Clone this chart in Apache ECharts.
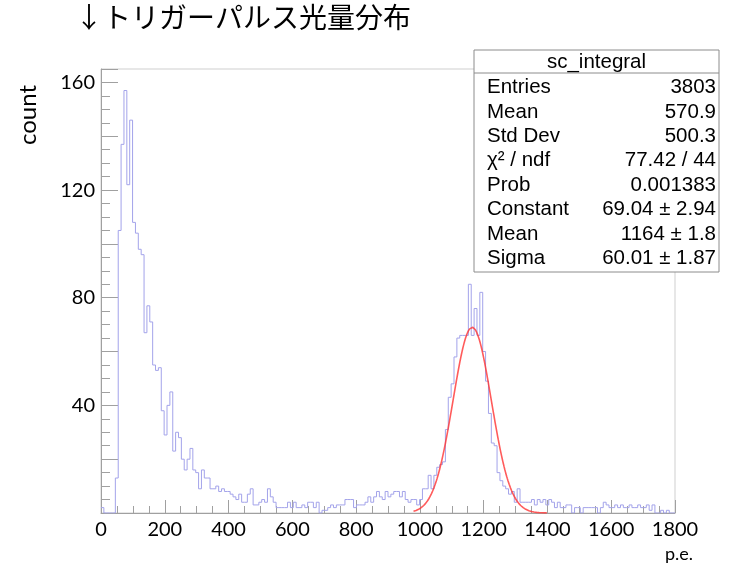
<!DOCTYPE html>
<html lang="ja">
<head>
    <meta charset="UTF-8">
    <title>トリガーパルス光量分布</title>
    <script src="https://cdn.jsdelivr.net/npm/echarts@6/dist/echarts.min.js"></script>
    <style>
        html, body { margin: 0; padding: 0; background: #fff; }
        #main { width: 730px; height: 569px; }
    </style>
</head>
<body>
<div id="main"></div>
<script>
    // histogram sc_integral : 200 bins, 0 - 1800 p.e. (9 p.e. per bin)
    var binLow = 0;
    var binWidth = 9;
    var counts = [
        2, 0, 0, 0, 0, 13, 105, 137, 157, 122,
        146, 108, 104, 98, 96, 67, 77, 71, 55, 53,
        54, 38, 29, 40, 45, 23, 30, 28, 20, 16,
        20, 24, 16, 15, 9, 16, 13,
        13, 9, 9, 10, 8, 9, 8, 8, 7, 6,
        5, 7, 4, 4, 7, 9, 3, 3, 4, 5,
        4, 9, 6, 4, 2, 2, 2, 2, 4, 2,
        4, 2, 2, 3, 2, 4, 4, 2, 4, 0,
        1, 1, 2, 3, 2, 3, 3, 3, 5, 5,
        5, 2, 3, 3, 3, 4, 6, 4, 6, 8,
        6, 5, 8, 6, 7, 8, 8, 6, 8, 5,
        4,
        5, 5, 3, 5, 9, 9, 14, 9, 14, 17,
        18, 19, 31, 43, 48, 58, 65, 66, 66, 66,
        85, 66, 76, 66, 82, 60, 49, 37, 26, 25,
        15, 12, 10, 9, 7, 8, 4, 9, 4,
        4, 4, 4, 5, 3, 5, 4, 5, 3, 5,
        4, 2, 4, 2, 2, 3, 3, 0, 2, 2,
        0, 2, 2, 2, 2, 2, 0, 2, 4, 3,
        2, 2, 3, 2, 3, 2, 2, 3, 2, 2,
        3, 2, 2, 3, 1, 3, 0, 0, 1, 0,
        1, 0, 0
    ];

    // gaus fit (from the stats box)
    var fitConstant = 69.04;
    var fitMean = 1164;
    var fitSigma = 60.01;
    var fitRange = [980, 1400];

    var xTicks = [0, 200, 400, 600, 800, 1000, 1200, 1400, 1600, 1800];
    var yLabels = [40, 80, 120, 160];

    var statNames = ['Entries', 'Mean', 'Std Dev', 'χ² / ndf', 'Prob', 'Constant', 'Mean', 'Sigma'];
    var statValues = ['3803', '570.9', '500.3', '77.42 / 44', '0.001383', '69.04 ± 2.94', '1164 ± 1.8', '60.01 ± 1.87'];

    // step outline points (left edges + last edge)
    var histData = [];
    for (var i = 0; i < counts.length; i++) {
        histData.push([binLow + i * binWidth, counts[i]]);
    }
    histData.push([binLow + counts.length * binWidth, counts[counts.length - 1]]);

    // fitted gaussian
    var fitData = [];
    for (var k = 0; k <= 210; k++) {
        var x = fitRange[0] + (fitRange[1] - fitRange[0]) * k / 210;
        var d = (x - fitMean) / fitSigma;
        fitData.push([x, fitConstant * Math.exp(-0.5 * d * d)]);
    }

    // stats box
    var boxL = 474, boxT = 50, boxR = 719, boxB = 272, headB = 73;
    var statEls = [
        { type: 'rect', shape: { x: boxL, y: boxT, width: boxR - boxL, height: boxB - boxT },
          style: { fill: '#fff', stroke: '#8c8c8c', lineWidth: 1 }, z: 100 },
        { type: 'line', shape: { x1: boxL, y1: headB, x2: boxR, y2: headB },
          style: { stroke: '#8c8c8c', lineWidth: 1 }, z: 101 },
        { type: 'text', x: (boxL + boxR) / 2, y: 62, z: 102,
          style: { text: 'sc_integral', font: '20.5px "Liberation Sans"', fill: '#000',
                   align: 'center', verticalAlign: 'middle' } }
    ];
    for (var j = 0; j < statNames.length; j++) {
        var yy = 87.5 + j * 24.4;
        statEls.push({ type: 'text', x: 487, y: yy, z: 102,
            style: { text: statNames[j], font: '20.5px "Liberation Sans"', fill: '#000',
                     align: 'left', verticalAlign: 'middle' } });
        statEls.push({ type: 'text', x: 716, y: yy, z: 102,
            style: { text: statValues[j], font: '20.5px "Liberation Sans"', fill: '#000',
                     align: 'right', verticalAlign: 'middle' } });
    }

    var axisGray = '#a0a0a0';
    var labelFont = 'Lato';

    var myChart = echarts.init(document.getElementById('main'));
    var option = {
        animation: false,
        backgroundColor: '#fff',
        grid: {
            left: 101, right: 55, top: 69, bottom: 56,
            show: true, borderColor: '#cfcfcf', borderWidth: 1
        },
        xAxis: {
            type: 'value',
            min: xTicks[0],
            max: xTicks[xTicks.length - 1],
            interval: 200,
            axisLine: { show: true, onZero: false, lineStyle: { color: axisGray, width: 1 } },
            axisTick: { show: true, inside: true, length: 13, lineStyle: { color: axisGray } },
            minorTick: { show: true, splitNumber: 4, length: 7, lineStyle: { color: axisGray } },
            splitLine: { show: false },
            axisLabel: {
                color: '#000', fontSize: 20, fontFamily: labelFont, margin: 7,
                formatter: function (v) { return String(v); }
            }
        },
        yAxis: {
            type: 'value',
            min: 0,
            max: 165,
            interval: 20,
            axisLine: { show: true, onZero: false, lineStyle: { color: axisGray, width: 1 } },
            axisTick: { show: true, inside: true, length: 17, lineStyle: { color: axisGray } },
            minorTick: { show: true, splitNumber: 4, length: 9, lineStyle: { color: axisGray } },
            splitLine: { show: false },
            axisLabel: {
                color: '#000', fontSize: 20, fontFamily: labelFont, margin: 6,
                formatter: function (v) { return yLabels.indexOf(v) >= 0 ? String(v) : ''; }
            }
        },
        series: [
            {
                name: 'sc_integral',
                type: 'line',
                step: 'end',
                symbol: 'none',
                data: histData,
                lineStyle: { color: '#a3a3ea', width: 1 },
                z: 2
            },
            {
                name: 'gaus',
                type: 'line',
                symbol: 'none',
                data: fitData,
                lineStyle: { color: 'rgba(255,50,50,0.8)', width: 1.6 },
                z: 3
            }
        ],
        graphic: [
            { type: 'text', left: 75, top: 3,
              style: { text: '↓トリガーパルス光量分布', font: '28px "Noto Sans CJK JP"', fill: '#000' } },
            { type: 'text', x: 28, y: 115, rotation: Math.PI / 2,
              style: { text: 'count', font: '24px ' + labelFont, fill: '#000',
                       align: 'center', verticalAlign: 'middle' } },
            { type: 'text', x: 693, y: 554,
              style: { text: 'p.e.', font: '18px ' + labelFont, fill: '#000',
                       align: 'right', verticalAlign: 'middle' } },
            { type: 'group', children: statEls }
        ]
    };
    myChart.setOption(option);
</script>
</body>
</html>
